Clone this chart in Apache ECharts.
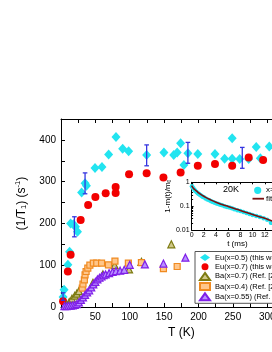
<!DOCTYPE html>
<html><head><meta charset="utf-8">
<script src="https://cdn.jsdelivr.net/npm/echarts@6/dist/echarts.min.js"></script>
<style>html,body{margin:0;padding:0;background:#fff;}#c{width:272px;height:352px;}</style>
</head><body><div id="c"></div>
<script>
// ---- main panel data: [T (K), 1/T1 (s^-1)] ----
var euX05 = [[3,24],[4.5,41],[10,101],[12.5,132],[14,200],[18,198],[21,192],[24,180],[30,274],[35,296],[37,290],[49.5,333],[59.6,335],[69.3,365],[80,407],[89.7,379],[98.4,373],[124.6,364],[149.7,370],[164,364],[169,370],[174,392],[178.8,340],[184.6,368],[199,366],[224,366],[238,355],[249,404],[249,355],[260,354],[273,354],[284,383],[290,356],[303,384]];
var euX07 = [[3,14],[10,85],[14,125],[28.6,208],[39.5,244],[50,263],[65,272],[79.5,287],[79.5,273],[99,318],[124.6,320],[149,310],[174,322],[199,338],[224,342],[249,338],[273,358],[294,352]];
var baX07 = [[8,5],[12,12],[16,20],[20,27],[23,32],[26,38],[46.5,58],[61,78],[78,100],[99,90],[117,108],[160.5,150]];
var baX04 = [[31,45],[32,55],[34,65],[35,77],[36.5,85],[39,93],[42,100],[47,105],[52,105],[59,105],[69,101],[78.5,110],[98,105],[117,106],[149,92],[169,97]];
var baX055 = [[5,2],[8,2],[11,3],[14,3],[17,4],[20,5],[23,7],[26,11],[29,17],[32,23],[35,29],[38,35],[41,40],[44,47],[47,54],[50,60],[53,66],[56,70],[59,73],[62,76],[65,78],[70,81],[75,84],[80,86],[86,87],[92,89],[100,101],[122,102],[149,104],[181,118]];
// error bars: [T, low, high]
var errBars = [[3,16,34],[19.5,168,216],[35,271,321],[124.6,338,388],[184.6,344,394],[263.7,332,382]];
var seriesNames = ['Eu(x=0.5) (this work)','Eu(x=0.7) (this work)','Ba(x=0.7) (Ref. [25])','Ba(x=0.4) (Ref. [26])','Ba(x=0.55) (Ref. [27])'];
var xTickLabels = ['0','50','100','150','200','250','300'];
var yTickLabels = ['0','100','200','300','400'];
// ---- inset data: t (ms), 1-m(t)/m0 ----
var insetT = [0.05,0.15,0.3,0.45,0.6,0.8,1.0,1.2,1.4,1.6,1.8,2.0,2.3,2.6,2.9,3.2,3.5,3.8,4.1,4.4,4.7,5.0,5.4,5.8,6.2,6.6,7.0,7.5,8.0,8.5,9.0,9.5,10.0,10.6,11.2,11.8,12.4,13.0];
var insetV = [0.68,0.62,0.55,0.49,0.44,0.39,0.35,0.32,0.29,0.27,0.25,0.235,0.21,0.19,0.175,0.16,0.15,0.14,0.13,0.122,0.115,0.108,0.1,0.093,0.087,0.081,0.075,0.068,0.062,0.057,0.052,0.047,0.043,0.039,0.035,0.031,0.027,0.02];
var fitT = [0,0.25,0.5,1,1.5,2,3,4,5,6,7,8,9,10,11,12,13,14];
var fitV = [0.72,0.58,0.5,0.39,0.31,0.26,0.19,0.145,0.118,0.097,0.08,0.066,0.054,0.045,0.037,0.031,0.025,0.021];

var FONT = 'Liberation Sans, Arial, sans-serif';
var chart = echarts.init(document.getElementById('c'), null, {renderer:'canvas'});
function zip(a,b){var r=[];for(var i=0;i<a.length;i++)r.push([a[i],b[i]]);return r;}
var axisCommon = {
  axisLine:{show:true,onZero:false,lineStyle:{color:'#000',width:1}},
  axisTick:{show:true,inside:true,length:4,lineStyle:{color:'#000',width:1}},
  splitLine:{show:false}
};
var option = {
  animation:false,
  backgroundColor:'#fff',
  textStyle:{fontFamily:FONT},
  grid:[
    {left:61,top:119,width:240.6,height:188,containLabel:false,outerBoundsMode:'none'},
    {left:191.6,top:182.3,width:91.5,height:47.7,containLabel:false,outerBoundsMode:'none'}
  ],
  xAxis:[
    Object.assign({},axisCommon,{gridIndex:0,type:'value',min:0,max:350,interval:25,position:'bottom',
      axisLabel:{margin:5,fontSize:10,color:'#000',fontFamily:FONT,formatter:function(v){var s=String(v);return xTickLabels.indexOf(s)>=0?s:'';}},
      name:'T (K)',nameLocation:'middle',nameGap:16,nameTextStyle:{fontSize:12,color:'#000',fontFamily:FONT}}),
    Object.assign({},axisCommon,{gridIndex:0,type:'value',min:0,max:350,interval:25,position:'top',axisLabel:{show:false}}),
    Object.assign({},axisCommon,{gridIndex:1,type:'value',min:0,max:15,interval:2,position:'bottom',
      axisTick:{show:true,inside:true,length:2,lineStyle:{color:'#000',width:1}},
      axisLabel:{margin:2,fontSize:7,color:'#000',fontFamily:FONT,formatter:function(v){return v<=14?String(v):'';}},
      name:'t (ms)',nameLocation:'middle',nameGap:9,nameTextStyle:{fontSize:8,color:'#000',fontFamily:FONT}}),
    Object.assign({},axisCommon,{gridIndex:1,type:'value',min:0,max:15,interval:2,position:'top',axisLabel:{show:false},
      axisTick:{show:true,inside:true,length:2,lineStyle:{color:'#000',width:1}}})
  ],
  yAxis:[
    Object.assign({},axisCommon,{gridIndex:0,type:'value',min:0,max:450,interval:50,
      axisLabel:{margin:5,fontSize:10,color:'#000',fontFamily:FONT,formatter:function(v){var s=String(v);return yTickLabels.indexOf(s)>=0?s:'';}},
      name:'(1/T{sub|1}) (s{sup|-1})',nameLocation:'middle',nameRotate:90,nameGap:18,
      nameTextStyle:{fontSize:12,color:'#000',fontFamily:FONT,padding:[0,0,0,19],
        rich:{sub:{fontSize:7.5,verticalAlign:'bottom',padding:[6,0,0,0],fontFamily:FONT},sup:{fontSize:7.5,verticalAlign:'top',padding:[0,0,6,0],fontFamily:FONT}}}}),
    Object.assign({},axisCommon,{gridIndex:1,type:'log',logBase:10,min:0.01,max:1,
      axisTick:{show:true,inside:true,length:2,lineStyle:{color:'#000',width:1}},
      minorTick:{show:true,splitNumber:9,length:1.5,lineStyle:{color:'#000'}},
      axisLabel:{margin:2,fontSize:7,color:'#000',fontFamily:FONT,formatter:function(v){return v>=0.99?'1':(v>=0.099?'0.1':'0.01');}},
      name:'1-m(t)/m{s|0}',nameLocation:'middle',nameRotate:90,nameGap:10,
      nameTextStyle:{fontSize:8,color:'#000',fontFamily:FONT,padding:[0,0,0,20],rich:{s:{fontSize:5,verticalAlign:'bottom',padding:[4,0,0,0]}}}})
  ],
  legend:{
    show:true,orient:'vertical',left:195,top:251.5,padding:[2,60,2,4],itemGap:1.2,itemWidth:10,itemHeight:7,
    borderColor:'#555',borderWidth:1,backgroundColor:'#fff',
    textStyle:{fontSize:7.5,lineHeight:8,color:'#000',fontFamily:FONT},
    data:seriesNames
  },
  series:[
    {name:seriesNames[0],type:'scatter',xAxisIndex:0,yAxisIndex:0,data:euX05,symbol:'diamond',symbolSize:[9,10],
      itemStyle:{color:'#22E4F0',opacity:1}},
    {name:seriesNames[1],type:'scatter',xAxisIndex:0,yAxisIndex:0,data:euX07,symbol:'circle',symbolSize:8,
      itemStyle:{color:'#F20000',opacity:1}},
    {name:seriesNames[2],type:'scatter',xAxisIndex:0,yAxisIndex:0,data:baX07,symbol:'triangle',symbolSize:7,
      itemStyle:{color:'#CFC788',borderColor:'#7C7A10',borderWidth:1.2,opacity:1}},
    {name:seriesNames[3],type:'scatter',xAxisIndex:0,yAxisIndex:0,data:baX04,symbol:'rect',symbolSize:6,
      itemStyle:{color:'#FFC68A',borderColor:'#F08A20',borderWidth:1.2,opacity:1}},
    {name:seriesNames[4],type:'scatter',xAxisIndex:0,yAxisIndex:0,data:baX055,symbol:'triangle',symbolSize:7,
      itemStyle:{color:'#B890FF',borderColor:'#7F1FE8',borderWidth:1.2,opacity:1}},
    {name:'err',type:'custom',xAxisIndex:0,yAxisIndex:0,data:errBars,z:5,encode:{x:0,y:[1,2]},
      renderItem:function(params,api){
        var x=api.value(0),lo=api.value(1),hi=api.value(2);
        var p1=api.coord([x,hi]),p2=api.coord([x,lo]);var hw=2.3;
        var st={stroke:'#3535E0',lineWidth:1.3};
        return {type:'group',children:[
          {type:'line',shape:{x1:p1[0],y1:p1[1],x2:p2[0],y2:p2[1]},style:st},
          {type:'line',shape:{x1:p1[0]-hw,y1:p1[1],x2:p1[0]+hw,y2:p1[1]},style:st},
          {type:'line',shape:{x1:p2[0]-hw,y1:p2[1],x2:p2[0]+hw,y2:p2[1]},style:st}
        ]};
      }},
    {name:'inset',type:'scatter',xAxisIndex:2,yAxisIndex:1,data:zip(insetT,insetV),symbol:'circle',symbolSize:4.5,
      itemStyle:{color:'#22E4F0',opacity:1}},
    {name:'fit',type:'line',xAxisIndex:2,yAxisIndex:1,data:zip(fitT,fitV),showSymbol:false,smooth:true,
      lineStyle:{color:'#7A1010',width:1.6},z:4}
  ],
  graphic:[
    {type:'text',left:223,top:185,style:{text:'20K',fontSize:9,fill:'#000',fontFamily:FONT}},
    {type:'circle',shape:{cx:257.7,cy:190.3,r:3.6},style:{fill:'#22E4F0'}},
    {type:'text',left:266,top:186,style:{text:'x=0.5',fontSize:8,fill:'#000',fontFamily:FONT}},
    {type:'line',shape:{x1:252.5,y1:198.7,x2:264,y2:198.7},style:{stroke:'#7A1010',lineWidth:1.8}},
    {type:'text',left:266,top:194.5,style:{text:'fit',fontSize:8,fill:'#000',fontFamily:FONT}}
  ]
};
chart.setOption(option);
</script></body></html>
